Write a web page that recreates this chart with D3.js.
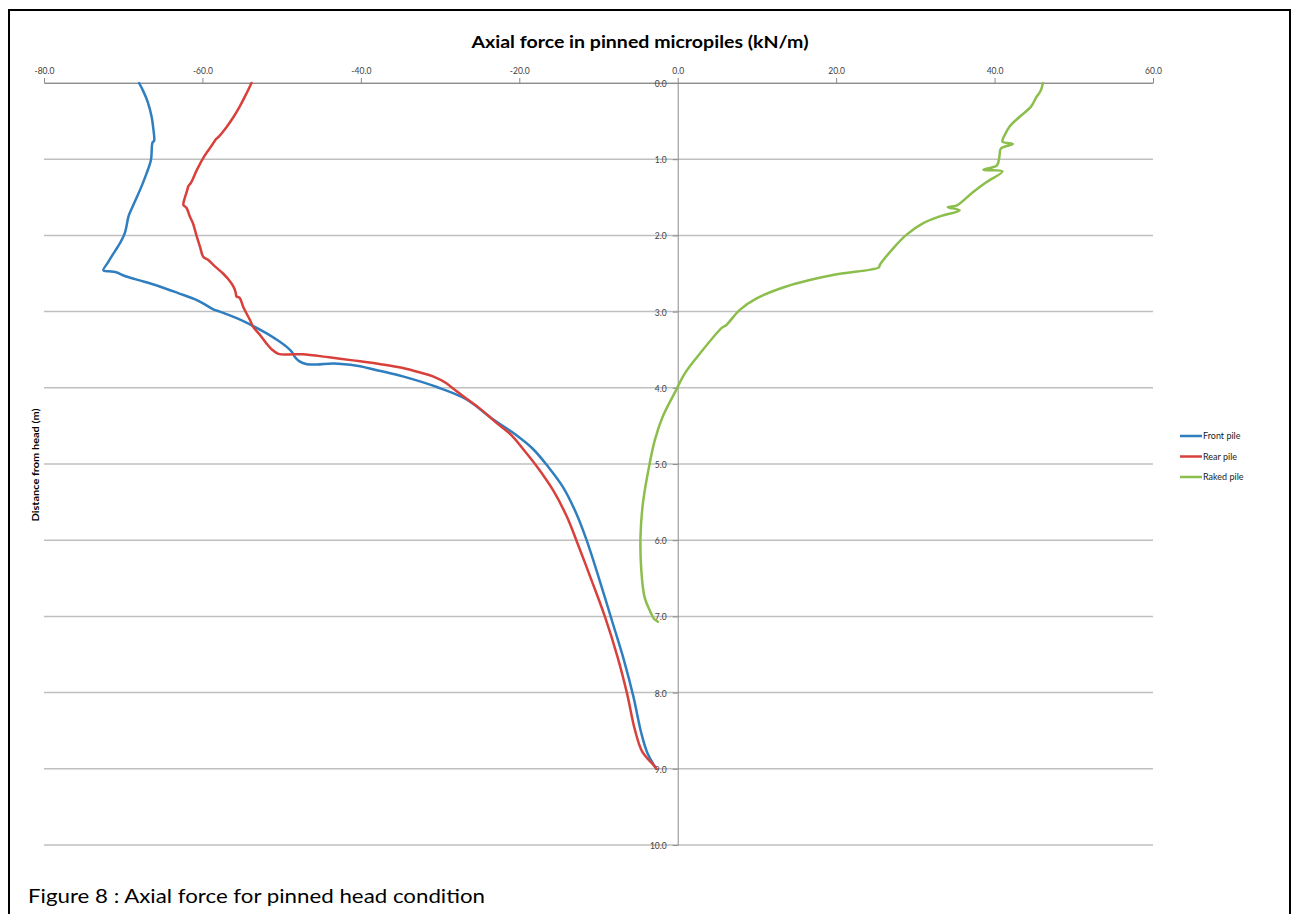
<!DOCTYPE html>
<html>
<head>
<meta charset="utf-8">
<script src="https://cdn.jsdelivr.net/npm/d3@7"></script>
<style>
  html, body { margin: 0; padding: 0; background: #fff; }
  svg { display: block; }
  text { font-family: Lato, "Open Sans", sans-serif; }
</style>
</head>
<body>
<svg id="chart" width="1300" height="914"></svg>
<script>
// Axial force (kN/m) against distance from the pile head (m)
const xTicks = [-80, -60, -40, -20, 0, 20, 40, 60];
const yTicks = [0, 1, 2, 3, 4, 5, 6, 7, 8, 9, 10];

const seriesNames = ["Front pile", "Rear pile", "Raked pile"];
const seriesColors = ["#2f7ebf", "#d8403b", "#8cbe4c"];

const frontDepth = [0.00, 0.10, 0.25, 0.45, 0.60, 0.76, 0.78, 1.01, 1.20, 1.36, 1.55, 1.74, 1.78, 1.97, 2.10, 2.20, 2.35, 2.46, 2.47, 2.48, 2.54, 2.60, 2.67, 2.76, 2.85, 2.96, 2.98, 3.00, 3.09, 3.19, 3.28, 3.37, 3.46, 3.53, 3.60, 3.65, 3.69, 3.695, 3.68, 3.71, 3.78, 3.85, 3.99, 4.15, 4.40, 4.62, 4.80, 5.03, 5.30, 5.65, 6.00, 6.48, 7.09, 7.57, 8.05, 8.53, 8.80, 9.00];
const frontForce = [-68.0, -67.5, -66.9, -66.4, -66.2, -66.1, -66.3, -66.5, -67.1, -67.7, -68.5, -69.3, -69.4, -69.8, -70.4, -71.0, -71.9, -72.5, -71.8, -71.0, -69.6, -67.6, -65.4, -63.0, -60.7, -58.8, -58.4, -57.8, -55.6, -53.6, -52.0, -50.6, -49.4, -48.7, -48.3, -47.8, -46.8, -45.5, -43.5, -40.5, -37.5, -34.7, -30.4, -26.7, -23.5, -20.4, -18.3, -16.4, -14.5, -12.8, -11.5, -10.0, -8.2, -6.8, -5.6, -4.6, -3.8, -2.7];

const rearDepth = [0.00, 0.15, 0.31, 0.45, 0.57, 0.70, 0.75, 0.77, 0.92, 0.95, 1.14, 1.30, 1.36, 1.40, 1.50, 1.60, 1.64, 1.75, 1.84, 2.02, 2.15, 2.28, 2.32, 2.40, 2.50, 2.58, 2.67, 2.75, 2.80, 2.82, 2.95, 3.11, 3.20, 3.31, 3.42, 3.50, 3.555, 3.56, 3.56, 3.60, 3.64, 3.69, 3.74, 3.80, 3.85, 3.94, 3.99, 4.14, 4.27, 4.45, 4.62, 4.82, 5.03, 5.35, 5.69, 6.00, 6.52, 7.00, 7.53, 8.01, 8.49, 8.77, 8.97, 9.00];
const rearForce = [-53.8, -54.5, -55.3, -56.1, -56.9, -57.9, -58.4, -58.5, -59.5, -59.7, -60.7, -61.4, -61.8, -61.9, -62.2, -62.4, -62.0, -61.6, -61.2, -60.7, -60.3, -59.9, -59.3, -58.5, -57.4, -56.7, -56.1, -55.8, -55.7, -55.3, -54.8, -54.0, -53.6, -52.7, -51.9, -51.2, -50.4, -48.5, -47.3, -44.0, -41.0, -37.5, -34.7, -32.5, -30.9, -29.2, -28.6, -26.7, -25.0, -23.0, -21.0, -19.4, -17.8, -15.7, -14.0, -12.8, -10.9, -9.2, -7.6, -6.4, -5.4, -4.5, -2.9, -2.7];

const rakedDepth = [0.00, 0.08, 0.14, 0.18, 0.31, 0.44, 0.57, 0.68, 0.77, 0.80, 0.86, 0.97, 1.08, 1.14, 1.16, 1.30, 1.43, 1.61, 1.63, 1.67, 1.75, 1.84, 1.99, 2.17, 2.39, 2.42, 2.52, 2.67, 2.83, 2.98, 3.18, 3.21, 3.55, 3.81, 4.03, 4.38, 4.69, 5.08, 5.52, 5.95, 6.39, 6.74, 6.93, 7.03, 7.07];
const rakedForce = [46.1, 45.9, 45.6, 45.3, 44.6, 43.2, 41.9, 41.3, 41.0, 42.3, 40.8, 40.6, 40.3, 38.6, 41.0, 39.0, 37.3, 35.2, 34.1, 35.6, 33.1, 31.0, 28.9, 27.2, 25.5, 25.4, 19.6, 13.7, 9.9, 7.8, 6.1, 5.6, 2.8, 0.9, -0.2, -1.9, -2.9, -3.7, -4.4, -4.7, -4.6, -4.2, -3.5, -3.0, -2.5];

const series = [
  { name: seriesNames[0], color: seriesColors[0], pts: frontDepth.map((d, i) => [frontForce[i], d]) },
  { name: seriesNames[1], color: seriesColors[1], pts: rearDepth.map((d, i) => [rearForce[i], d]) },
  { name: seriesNames[2], color: seriesColors[2], pts: rakedDepth.map((d, i) => [rakedForce[i], d]) }
];

const svg = d3.select("#chart");
const fmt = d => d.toFixed(1);

const x = d3.scaleLinear().domain([-80, 60]).range([44, 1153]);
const y = d3.scaleLinear().domain([0, 10]).range([83, 845]);

// outer frame
svg.append("rect")
  .attr("x", 9).attr("y", 10).attr("width", 1281).attr("height", 920)
  .attr("fill", "none").attr("stroke", "#000").attr("stroke-width", 2);

// horizontal gridlines
svg.append("g").selectAll("line").data(yTicks).join("line")
  .attr("x1", x(-80)).attr("x2", x(60))
  .attr("y1", d => y(d)).attr("y2", d => y(d))
  .attr("stroke", "#bfbfbf").attr("stroke-width", 1.5);

// top value axis
const gx = svg.append("g").attr("transform", `translate(0,${y(0)})`)
  .call(d3.axisTop(x).tickValues(xTicks).tickFormat(fmt).tickSize(5).tickPadding(4).tickSizeOuter(0));
gx.select(".domain").attr("stroke", "#8c8c8c");
gx.selectAll(".tick line").attr("stroke", "#8c8c8c");
gx.selectAll("text").attr("fill", "#404040").attr("font-size", 8.5).attr("font-family", "Lato, sans-serif");

// depth axis along zero force
const gy = svg.append("g").attr("transform", `translate(${x(0)},0)`)
  .call(d3.axisLeft(y).tickValues(yTicks).tickFormat(fmt).tickSize(5).tickPadding(6).tickSizeOuter(0));
gy.select(".domain").attr("stroke", "#8c8c8c");
gy.selectAll(".tick line").attr("stroke", "#8c8c8c");
gy.selectAll("text").attr("fill", "#404040").attr("font-size", 8.5).attr("font-family", "Lato, sans-serif").attr("dy", "0.4em");

// series curves
const line = d3.line()
  .x(p => x(p[0])).y(p => y(p[1]))
  .curve(d3.curveCatmullRom.alpha(0.5));

svg.append("g").selectAll("path").data(series).join("path")
  .attr("d", s => line(s.pts))
  .attr("fill", "none")
  .attr("stroke", s => s.color)
  .attr("stroke-width", 2.5)
  .attr("stroke-linejoin", "round")
  .attr("stroke-linecap", "round");

// title
svg.append("text")
  .attr("x", 640).attr("y", 48).attr("text-anchor", "middle")
  .attr("font-size", 17).attr("font-weight", "bold").attr("fill", "#000")
  .attr("textLength", 337).attr("lengthAdjust", "spacingAndGlyphs")
  .text("Axial force in pinned micropiles (kN/m)");

// depth axis title
svg.append("text")
  .attr("transform", "translate(39,465) rotate(-90)")
  .attr("text-anchor", "middle")
  .attr("font-size", 9).attr("font-weight", "bold").attr("fill", "#000")
  .attr("textLength", 113).attr("lengthAdjust", "spacingAndGlyphs")
  .text("Distance from head (m)");

// legend
const lg = svg.append("g").selectAll("g").data(series).join("g")
  .attr("transform", (s, i) => `translate(1180,${436 + i * 20.5})`);
lg.append("line").attr("x1", 0).attr("x2", 22).attr("y1", 0).attr("y2", 0)
  .attr("stroke", s => s.color).attr("stroke-width", 2.5);
lg.append("text").attr("x", 23).attr("y", 0).attr("dy", "0.35em")
  .attr("font-size", 9).attr("fill", "#222").text(s => s.name);

// caption
svg.append("text")
  .attr("x", 28).attr("y", 903)
  .attr("font-size", 19).attr("fill", "#000")
  .attr("textLength", 457).attr("lengthAdjust", "spacingAndGlyphs")
  .text("Figure 8 : Axial force for pinned head condition");
</script>
</body>
</html>
